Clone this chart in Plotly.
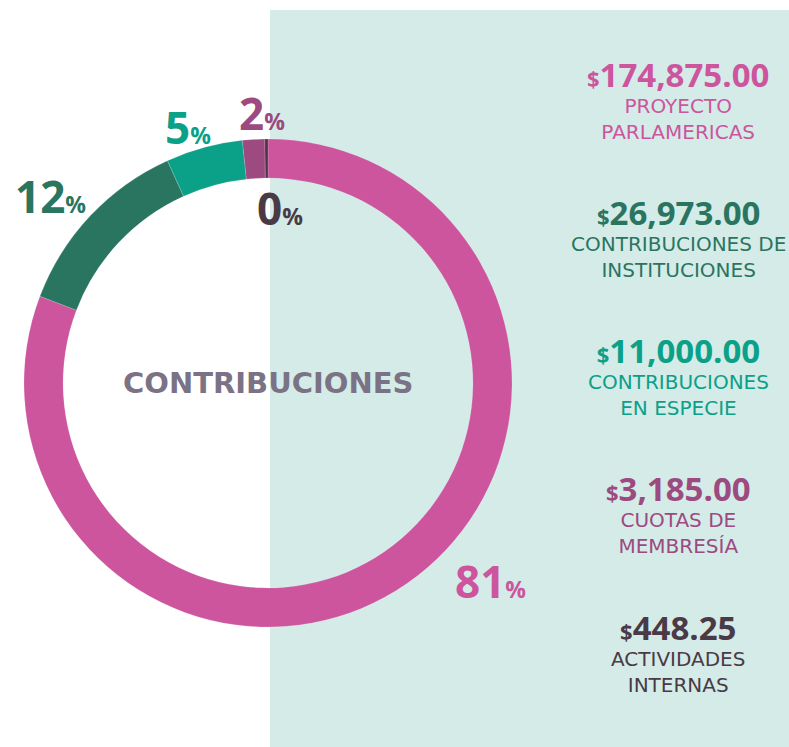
import plotly.graph_objects as go

W, H = 789, 747

categories = ["PROYECTO<br>PARLAMERICAS", "CONTRIBUCIONES DE<br>INSTITUCIONES",
              "CONTRIBUCIONES<br>EN ESPECIE", "CUOTAS DE<br>MEMBRESÍA",
              "ACTIVIDADES<br>INTERNAS"]
values = [174875.00, 26973.00, 11000.00, 3185.00, 448.25]
amount_labels = ["174,875.00", "26,973.00", "11,000.00", "3,185.00", "448.25"]
pct_labels = ["81", "12", "5", "2", "0"]
colors = ["#cc559e", "#2a7560", "#0ba088", "#9c4a80", "#4a3a45"]

NUM_FONT = "Open Sans"
LBL_FONT = "DejaVu Sans"

fig = go.Figure()

cx, cy, r = 268, 383, 244
fig.add_trace(go.Pie(
    values=values, labels=[c.replace("<br>", " ") for c in categories],
    sort=False, direction="clockwise", rotation=0,
    hole=0.84, marker=dict(colors=colors, line=dict(color="rgba(255,255,255,0.3)", width=0.5)),
    textinfo="none", hoverinfo="label+value+percent", showlegend=False,
    domain=dict(x=[(cx - r) / W, (cx + r) / W], y=[(H - cy - r) / H, (H - cy + r) / H]),
))

def px(x):
    return x / W

def py(y):
    return 1 - y / H

annotations = []
# center title
annotations.append(dict(x=px(cx), y=py(cy), text="<b>CONTRIBUCIONES</b>", showarrow=False,
                        font=dict(family=LBL_FONT, size=29, color="#7b7385"),
                        xanchor="center", yanchor="middle"))

# percent labels around the ring
pct_pos = [(490, 581), (50, 196), (188, 127), (262, 113), (280, 208)]
for p, (x, y), c in zip(pct_labels, pct_pos, colors):
    annotations.append(dict(x=px(x), y=py(y),
                            text=f"<b>{p}<span style='font-size:23px'>%</span></b>",
                            showarrow=False, font=dict(family=NUM_FONT, size=44, color=c),
                            xanchor="center", yanchor="middle"))

# right panel amounts and labels
label_y = [98, 236, 374, 512, 651]
for amt, cat, y, c in zip(amount_labels, categories, label_y, colors):
    txt = (f"<b><span style='font-family:{NUM_FONT};font-size:22px'>$</span>"
           f"<span style='font-family:{NUM_FONT};font-size:33px'>{amt}</span></b>"
           f"<br>{cat}")
    annotations.append(dict(x=px(678), y=py(y), text=txt,
                            showarrow=False, font=dict(family=LBL_FONT, size=20, color=c),
                            xanchor="center", yanchor="middle", align="center"))

fig.update_layout(
    width=W, height=H, margin=dict(l=0, r=0, t=0, b=0),
    paper_bgcolor="white", plot_bgcolor="white",
    shapes=[dict(type="rect", xref="paper", yref="paper", x0=px(270), x1=1.0,
                 y0=0, y1=py(10), fillcolor="#d4ebe8", line=dict(width=0), layer="below")],
    annotations=annotations,
)

fig.write_html("out.html", config={"displayModeBar": False},
               post_script="document.body.style.margin='0';document.body.style.overflow='hidden';")
